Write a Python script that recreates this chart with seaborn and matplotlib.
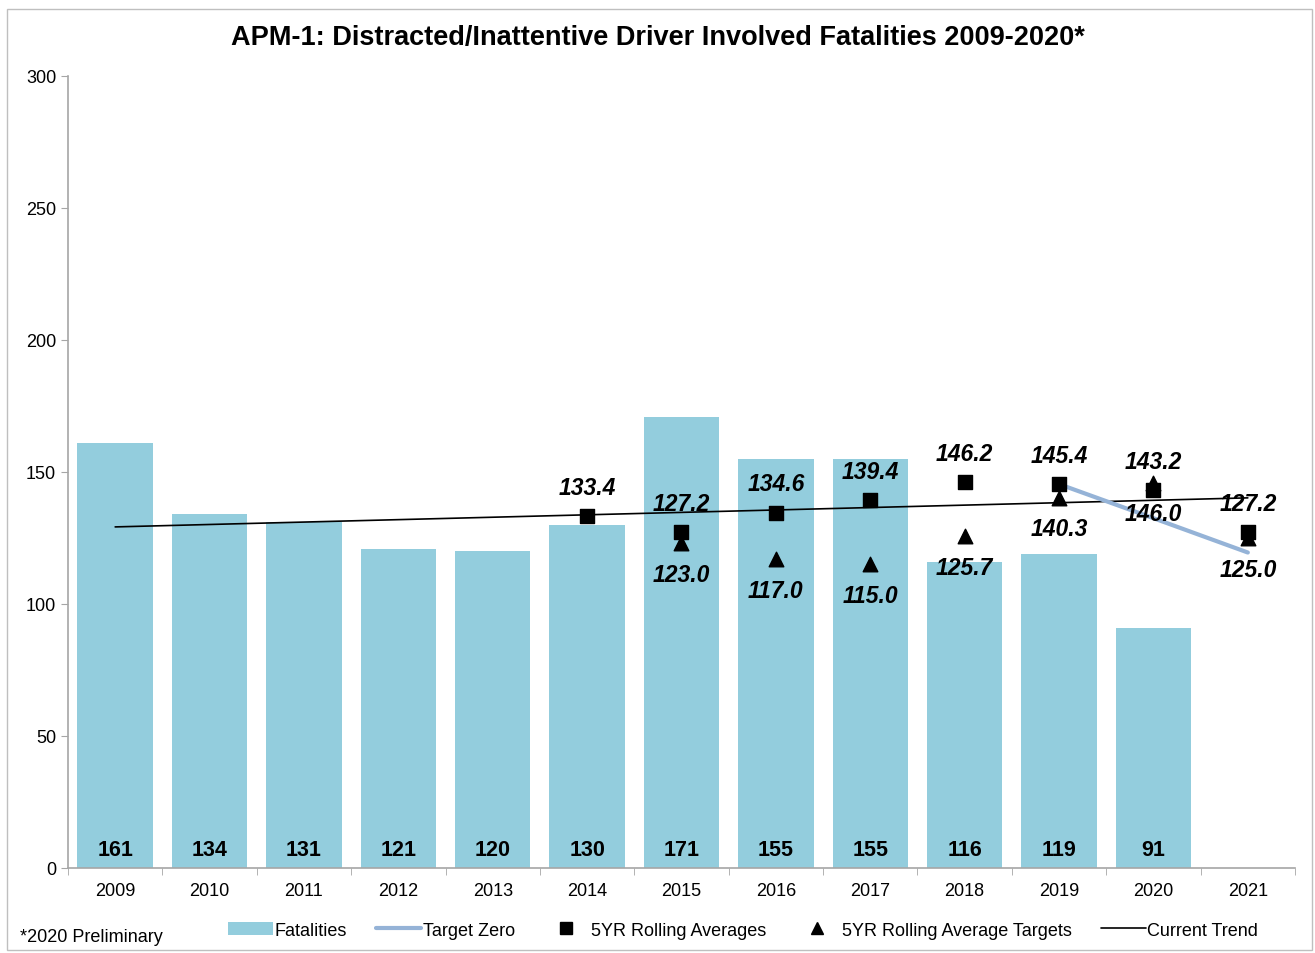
import numpy as np
import matplotlib
matplotlib.use("Agg")
import matplotlib.pyplot as plt
from matplotlib.patches import Patch, Rectangle
from matplotlib.lines import Line2D
import seaborn as sns
import pandas as pd

# data
years = [str(y) for y in range(2009, 2022)]
fatality_years = [str(y) for y in range(2009, 2021)]
fatalities = [161, 134, 131, 121, 120, 130, 171, 155, 155, 116, 119, 91]

avg_years = ["2014", "2015", "2016", "2017", "2018", "2019", "2020", "2021"]
rolling_avg = [133.4, 127.2, 134.6, 139.4, 146.2, 145.4, 143.2, 127.2]

target_years = ["2015", "2016", "2017", "2018", "2019", "2020", "2021"]
avg_targets = [123.0, 117.0, 115.0, 125.7, 140.3, 146.0, 125.0]

zero_years = ["2019", "2020", "2021"]
target_zero = [145.4, 132.5, 119.5]

trend_years = ["2009", "2021"]
current_trend = [129.2, 140.2]

bar_color = "#93CDDD"
zero_color = "#95B3D7"
axis_gray = "#A6A6A6"

sns.set_style("ticks")
plt.rcParams["font.family"] = ["Liberation Sans", "DejaVu Sans"]
plt.rcParams["text.color"] = "black"
plt.rcParams["xtick.color"] = "black"
plt.rcParams["ytick.color"] = "black"

fig = plt.figure(figsize=(13.15, 9.54), dpi=100)
ax = fig.add_axes([0.0517, 0.0891, 0.9331, 0.8302])

df = pd.DataFrame({"Year": fatality_years, "Fatalities": fatalities})
sns.barplot(data=df, x="Year", y="Fatalities", order=years, color=bar_color,
            saturation=1, width=0.8, edgecolor="none", ax=ax)

pos = {y: i for i, y in enumerate(years)}

# bar labels at the bottom
for y, v in zip(fatality_years, fatalities):
    ax.text(pos[y], 3, str(v), ha="center", va="bottom", fontsize=15.5,
            fontweight="bold", color="black")

# current trend and target zero lines
ax.plot([pos[y] for y in trend_years], current_trend, color="black", lw=1.2, zorder=3)
ax.plot([pos[y] for y in zero_years], target_zero, color=zero_color, lw=3, zorder=3)

# markers
ax.scatter([pos[y] for y in target_years], avg_targets, marker="^", s=110,
           color="black", zorder=4)
ax.scatter([pos[y] for y in avg_years], rolling_avg, marker="s", s=100,
           color="black", zorder=5)

lab = dict(fontsize=16.5, fontweight="bold", fontstyle="italic", ha="center",
           color="black")
for y, v in zip(avg_years, rolling_avg):
    ax.text(pos[y], v + 6.5, f"{v:.1f}", va="bottom", **lab)
for y, v in zip(target_years, avg_targets):
    ax.text(pos[y], v - 7.5, f"{v:.1f}", va="top", **lab)

ax.set_xlim(-0.5, len(years) - 0.5)
ax.set_ylim(0, 300)
ax.set_yticks(range(0, 301, 50))
ax.set_xlabel("")
ax.set_ylabel("")
ax.set_xticks(range(len(years)))
ax.set_xticklabels(years)
ax.set_xticks(np.arange(-0.5, len(years), 1), minor=True)
ax.tick_params(axis="x", which="major", length=0, labelsize=13, pad=10)
ax.tick_params(axis="x", which="minor", length=5, color=axis_gray)
ax.tick_params(axis="y", length=5, color=axis_gray, labelsize=13)
sns.despine(ax=ax)
for s in ["left", "bottom"]:
    ax.spines[s].set_color(axis_gray)
    ax.spines[s].set_linewidth(1.2)

fig.text(0.5, 0.96, "APM-1: Distracted/Inattentive Driver Involved Fatalities 2009-2020*",
         ha="center", va="center", fontsize=19.5, fontweight="bold")
fig.text(0.015, 0.017, "*2020 Preliminary", ha="left", va="center", fontsize=13)

handles = [
    Patch(facecolor=bar_color, edgecolor="none"),
    Line2D([], [], color=zero_color, lw=3),
    Line2D([], [], marker="s", color="black", ls="none", markersize=8),
    Line2D([], [], marker="^", color="black", ls="none", markersize=9),
    Line2D([], [], color="black", lw=1.2),
]
labels = ["Fatalities", "Target Zero", "5YR Rolling Averages",
          "5YR Rolling Average Targets", "Current Trend"]
fig.legend(handles, labels, loc="center", bbox_to_anchor=(0.565, 0.024), ncol=5,
           frameon=False, fontsize=13, handlelength=2.5, handletextpad=0.1,
           columnspacing=1.6)

fig.patches.append(Rectangle((0.005, 0.003), 0.993, 0.987, transform=fig.transFigure,
                             fill=False, edgecolor="#BFBFBF", lw=1))

fig.savefig("out.png", dpi=100)
